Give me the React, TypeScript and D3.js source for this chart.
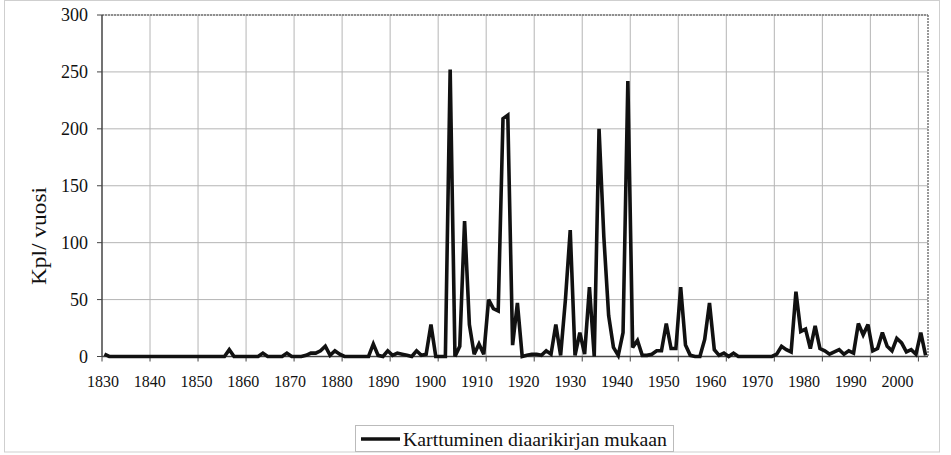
import React from "react";
import * as d3 from "d3";

// Karttuminen diaarikirjan mukaan, kpl per year 1830-2001
const firstYear = 1830;
const values = [
  // 1830s
  2, 0, 0, 0, 0, 0, 0, 0, 0, 0,
  // 1840s
  0, 0, 0, 0, 0, 0, 0, 0, 0, 0,
  // 1850s
  0, 0, 0, 0, 0, 0, 6, 0, 0, 0,
  // 1860s
  0, 0, 0, 3, 0, 0, 0, 0, 3, 0,
  // 1870s
  0, 0, 1, 3, 3, 5, 9, 1, 5, 2,
  // 1880s
  0, 0, 0, 0, 0, 0, 11, 1, 0, 5,
  // 1890s
  1, 3, 2, 1, 0, 5, 1, 2, 28, 0,
  // 1900s
  0, 0, 252, 0, 9, 119, 28, 2, 11, 2,
  // 1910s
  50, 42, 40, 209, 212, 10, 47, 0, 1, 2,
  // 1920s
  2, 1, 5, 2, 28, 1, 50, 111, 1, 21,
  // 1930s
  2, 61, 0, 200, 105, 36, 8, 1, 21, 242,
  // 1940s
  8, 14, 1, 1, 2, 5, 5, 29, 7, 7,
  // 1950s
  61, 10, 1, 0, 0, 15, 47, 6, 1, 3,
  // 1960s
  0, 3, 0, 0, 0, 0, 0, 0, 0, 0,
  // 1970s
  2, 9, 6, 4, 57, 22, 24, 7, 27, 7,
  // 1980s
  5, 2, 4, 6, 2, 5, 3, 29, 19, 28,
  // 1990s
  5, 7, 21, 9, 5, 16, 12, 4, 6, 2,
  // 2000s
  21, 1,
];
const years = values.map((_, i) => firstYear + i);
const xTickYears = d3.range(1830, 2001, 10);
const yTicks = [0, 50, 100, 150, 200, 250, 300];
const seriesName = "Karttuminen diaarikirjan mukaan";
const yTitle = "Kpl/ vuosi";

const W = 951;
const H = 455;
const plot = { left: 102, right: 928, top: 15, bottom: 356.5 };
const font = "Liberation Serif";

const App = () => {
  // categories sit between tick marks, like the spreadsheet chart
  const x = d3.scaleBand<number>()
    .domain(years)
    .range([plot.left, plot.right])
    .paddingInner(0)
    .paddingOuter(0);
  const xc = (yr: number) => (x(yr) as number) + x.bandwidth() / 2;
  const y = d3.scaleLinear().domain([0, 300]).range([plot.bottom, plot.top]);
  // tick labels are spaced a little tighter than the grid
  const xLabel = d3.scaleLinear().domain([1830, 2000]).range([103, 897.5]);

  const line = d3.line<number>()
    .x((_, i) => xc(years[i]))
    .y((d) => y(d));

  const gridX = (yr: number) => (yr === firstYear ? plot.left : (x(yr) as number));
  const txt = { fontFamily: font, fill: "#111" };

  return (
    <svg width={W} height={H} style={{ position: "absolute", left: 0, top: 0, background: "#fff" }}>
      {/* outer chart frame */}
      <rect x={4.5} y={0.5} width={935} height={451.5} fill="none" stroke="#cfcfcf" strokeWidth={1} />

      {/* horizontal grid */}
      {yTicks.filter((t) => t > 0).map((t) => (
        <line key={"gy" + t} x1={plot.left} x2={plot.right} y1={y(t)} y2={y(t)}
          stroke="#b5b5b5" strokeWidth={1} />
      ))}
      {/* vertical grid */}
      {xTickYears.filter((yr) => yr > firstYear).map((yr) => (
        <line key={"gx" + yr} x1={gridX(yr)} x2={gridX(yr)} y1={plot.top} y2={plot.bottom}
          stroke="#b5b5b5" strokeWidth={1} />
      ))}

      {/* plot frame */}
      <line x1={plot.left} x2={plot.right} y1={plot.top} y2={plot.top} stroke="#777" strokeWidth={1.5} strokeDasharray="2,1" />
      <line x1={plot.right} x2={plot.right} y1={plot.top} y2={plot.bottom} stroke="#777" strokeWidth={1.5} strokeDasharray="2,1" />

      {/* axes */}
      <line x1={plot.left} x2={plot.left} y1={plot.top} y2={plot.bottom} stroke="#444" strokeWidth={1.5} />
      <line x1={plot.left} x2={plot.right} y1={plot.bottom} y2={plot.bottom} stroke="#444" strokeWidth={1.5} />
      {yTicks.map((t) => (
        <line key={"ty" + t} x1={plot.left - 5} x2={plot.left} y1={y(t)} y2={y(t)} stroke="#444" strokeWidth={1} />
      ))}
      {xTickYears.map((yr) => (
        <line key={"tx" + yr} x1={gridX(yr)} x2={gridX(yr)} y1={plot.bottom} y2={plot.bottom + 5} stroke="#444" strokeWidth={1} />
      ))}

      {/* data line */}
      <path d={line(values) || ""} fill="none" stroke="#111" strokeWidth={3.6} strokeLinejoin="miter" strokeMiterlimit={3} />

      {/* y tick labels */}
      {yTicks.map((t) => (
        <text key={"ly" + t} x={88} y={y(t)} dy="0.35em" textAnchor="end" fontSize={18} style={txt}>{t}</text>
      ))}
      {/* x tick labels */}
      {xTickYears.map((yr) => (
        <text key={"lx" + yr} x={xLabel(yr)} y={387} textAnchor="middle" fontSize={16} style={txt}>{yr}</text>
      ))}

      {/* y title */}
      <text transform={`translate(46, 236) rotate(-90)`} textAnchor="middle" fontSize={20}
        textLength={98} lengthAdjust="spacingAndGlyphs" style={txt}>{yTitle}</text>

      {/* legend */}
      <rect x={355.5} y={425.5} width={318} height={26} fill="#fff" stroke="#bbb" strokeWidth={1} />
      <line x1={361} x2={400} y1={439} y2={439} stroke="#111" strokeWidth={3.6} />
      <text x={403} y={446} fontSize={18} textLength={264} lengthAdjust="spacingAndGlyphs" style={txt}>{seriesName}</text>
    </svg>
  );
};

export default App;
